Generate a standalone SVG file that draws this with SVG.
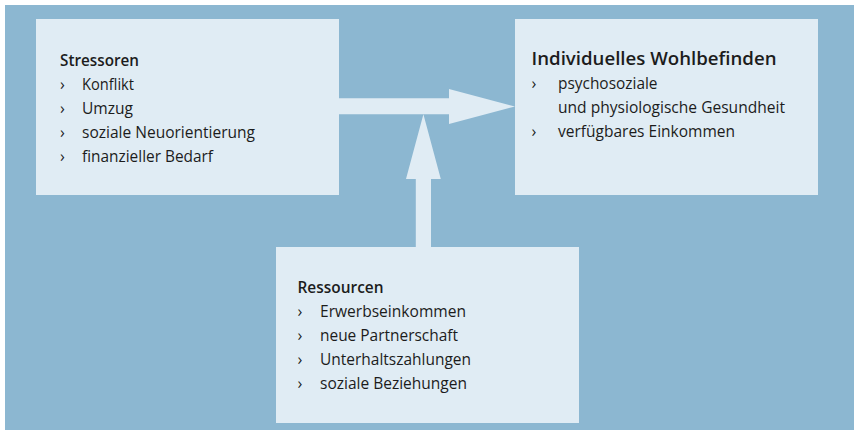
<svg xmlns="http://www.w3.org/2000/svg" width="854" height="430" viewBox="0 0 854 430">
  <style>
    .bg { fill: #8cb7d1; }
    .box { fill: #e0ecf4; }
    .arrow { fill: #e0ecf4; }
    text { font-family: "Open Sans", "Noto Sans", "Liberation Sans", sans-serif; fill: #1c1c1c; }
    .title { font-size: 16px; font-weight: 600; }
    .title-lg { font-size: 18px; font-weight: 600; }
    .item { font-size: 16px; }
  </style>
  <rect x="0" y="0" width="854" height="430" fill="#ffffff"/>
  <rect class="bg" x="5" y="5" width="849" height="425"/>

  <g id="connectors">
    <polygon class="arrow" points="339,98.3 449,98.3 449,89 515,106.5 449,124 449,114.3 339,114.3"/>
    <polygon class="arrow" points="415.8,247 415.8,179 406,179 423.4,114.3 440.8,179 431,179 431,247"/>
  </g>

  <g id="stressoren">
    <rect class="box" x="36" y="19" width="303" height="176"/>
    <text class="title" x="60" y="65.5" textLength="79" lengthAdjust="spacingAndGlyphs">Stressoren</text>
    <text class="item" x="60" y="90">›</text>
    <text class="item" x="82" y="90" textLength="52" lengthAdjust="spacingAndGlyphs">Konflikt</text>
    <text class="item" x="60" y="114">›</text>
    <text class="item" x="82" y="114" textLength="51" lengthAdjust="spacingAndGlyphs">Umzug</text>
    <text class="item" x="60" y="138">›</text>
    <text class="item" x="82" y="138" textLength="173" lengthAdjust="spacingAndGlyphs">soziale Neuorientierung</text>
    <text class="item" x="60" y="162">›</text>
    <text class="item" x="82" y="162" textLength="131" lengthAdjust="spacingAndGlyphs">finanzieller Bedarf</text>
  </g>

  <g id="wohlbefinden">
    <rect class="box" x="515" y="19" width="303" height="176"/>
    <text class="title-lg" x="531.5" y="64.5" textLength="245" lengthAdjust="spacingAndGlyphs">Individuelles Wohlbefinden</text>
    <text class="item" x="531.5" y="89">›</text>
    <text class="item" x="558" y="89" textLength="99.5" lengthAdjust="spacingAndGlyphs">psychosoziale</text>
    <text class="item" x="558" y="113" textLength="227" lengthAdjust="spacingAndGlyphs">und physiologische Gesundheit</text>
    <text class="item" x="531.5" y="137">›</text>
    <text class="item" x="558" y="137" textLength="177" lengthAdjust="spacingAndGlyphs">verfügbares Einkommen</text>
  </g>

  <g id="ressourcen">
    <rect class="box" x="276" y="247" width="303" height="176"/>
    <text class="title" x="297.5" y="293" textLength="86" lengthAdjust="spacingAndGlyphs">Ressourcen</text>
    <text class="item" x="297.5" y="317">›</text>
    <text class="item" x="320" y="317" textLength="146" lengthAdjust="spacingAndGlyphs">Erwerbseinkommen</text>
    <text class="item" x="297.5" y="341">›</text>
    <text class="item" x="320" y="341" textLength="138" lengthAdjust="spacingAndGlyphs">neue Partnerschaft</text>
    <text class="item" x="297.5" y="365">›</text>
    <text class="item" x="320" y="365" textLength="151" lengthAdjust="spacingAndGlyphs">Unterhaltszahlungen</text>
    <text class="item" x="297.5" y="389">›</text>
    <text class="item" x="320" y="389" textLength="147" lengthAdjust="spacingAndGlyphs">soziale Beziehungen</text>
  </g>
</svg>
